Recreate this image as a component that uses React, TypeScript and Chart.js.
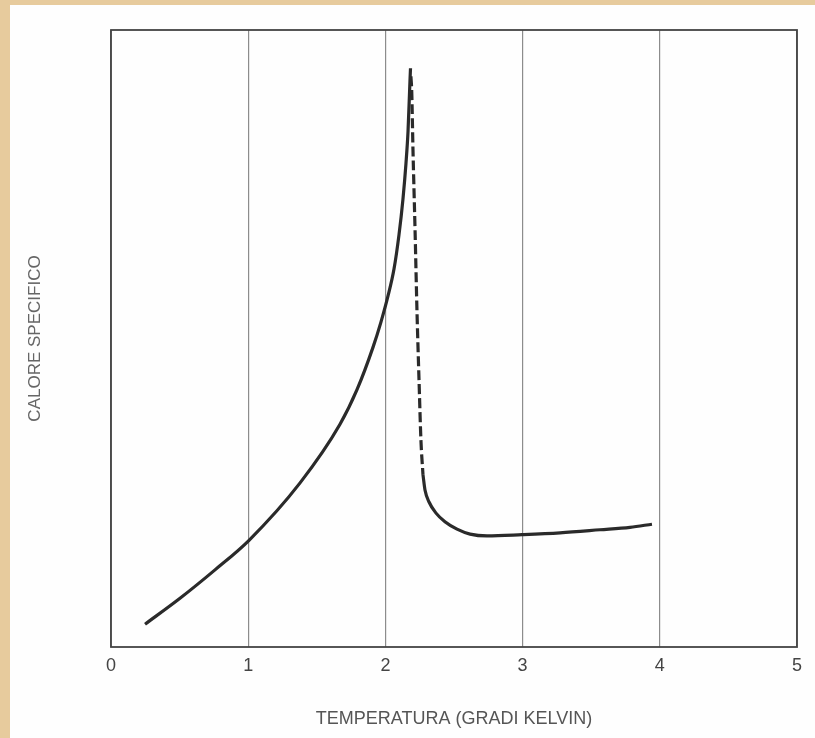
import React, { useEffect, useRef } from "react";
import { Chart, registerables } from "chart.js";

Chart.register(...registerables);

// Temperature (K) and specific heat (arbitrary units)
const belowTx = [0.248, 0.503, 0.758, 1.006, 1.378, 1.669, 1.793, 1.91, 1.968, 2.019, 2.063, 2.099, 2.128, 2.15, 2.165, 2.179, 2.183];
const belowTy = [0.37, 0.79, 1.25, 1.73, 2.66, 3.61, 4.17, 4.86, 5.27, 5.69, 6.13, 6.68, 7.26, 7.84, 8.36, 9.17, 9.38];

const dashedX = [2.186, 2.192, 2.201, 2.216, 2.23, 2.245, 2.259, 2.274];
const dashedY = [9.25, 9.0, 8.06, 6.77, 5.46, 4.33, 3.35, 2.79];

const aboveTx = [2.274, 2.289, 2.318, 2.369, 2.434, 2.522, 2.617, 2.741, 2.996, 3.273, 3.564, 3.783, 3.943];
const aboveTy = [2.79, 2.54, 2.35, 2.17, 2.03, 1.91, 1.83, 1.8, 1.82, 1.85, 1.9, 1.94, 1.99];

const xTicks = [0, 1, 2, 3, 4, 5];
const xTitle = "TEMPERATURA (GRADI KELVIN)";
const yTitle = "CALORE SPECIFICO";

const toPts = (xs: number[], ys: number[]) => xs.map((x, i) => ({ x, y: ys[i] }));

const framePlugin = {
  id: "frame",
  afterDraw(chart: any) {
    const { ctx, chartArea } = chart;
    ctx.save();
    ctx.strokeStyle = "#444";
    ctx.lineWidth = 1.8;
    ctx.strokeRect(chartArea.left, chartArea.top, chartArea.right - chartArea.left, chartArea.bottom - chartArea.top);
    ctx.restore();
  },
};

export default function App() {
  const ref = useRef<HTMLCanvasElement | null>(null);

  useEffect(() => {
    if (!ref.current) return;
    const lineColor = "#2a2a2a";
    const common = {
      borderColor: lineColor,
      borderWidth: 3.2,
      pointRadius: 0,
      cubicInterpolationMode: "monotone" as const,
      fill: false,
    };
    const chart = new Chart(ref.current, {
      type: "line",
      data: {
        datasets: [
          { ...common, data: toPts(belowTx, belowTy) },
          { ...common, data: toPts(dashedX, dashedY), borderDash: [10, 4] },
          { ...common, data: toPts(aboveTx, aboveTy) },
        ],
      },
      options: {
        animation: false,
        responsive: false,
        maintainAspectRatio: false,
        layout: { padding: { left: 0, top: 30, right: 18, bottom: 0 } },
        plugins: { legend: { display: false }, tooltip: { enabled: false } },
        scales: {
          x: {
            type: "linear",
            min: 0,
            max: 5,
            afterBuildTicks: (scale: any) => {
              scale.ticks = xTicks.map((v) => ({ value: v }));
            },
            afterFit: (scale: any) => {
              scale.height = 91;
            },
            grid: { display: true, color: "#8c8c8c", lineWidth: 1.2, drawTicks: false },
            border: { display: false },
            ticks: {
              padding: 8,
              color: "#444",
              font: { family: "Liberation Sans", size: 18 },
            },
            title: {
              display: true,
              text: xTitle,
              color: "#555",
              font: { family: "Liberation Sans", size: 18 },
              padding: { top: 0, bottom: 8 },
            },
          },
          y: {
            type: "linear",
            min: 0,
            max: 10,
            afterFit: (scale: any) => {
              scale.width = 111;
            },
            grid: { display: false },
            border: { display: false },
            ticks: { display: false },
            title: {
              display: true,
              text: yTitle,
              color: "#666",
              font: { family: "Liberation Sans", size: 17 },
              padding: { top: 25, bottom: 0 },
            },
          },
        },
      },
      plugins: [framePlugin],
    });
    return () => chart.destroy();
  }, []);

  return (
    <div style={{ position: "absolute", left: 0, top: 0, width: 815, height: 738, background: "#e7cb9d", overflow: "hidden" }}>
      <div style={{ position: "absolute", left: 10, top: 5, right: 0, bottom: 0, background: "#fefefe" }} />
      <canvas ref={ref} width={815} height={738} style={{ position: "absolute", left: 0, top: 0, width: 815, height: 738 }} />
    </div>
  );
}
